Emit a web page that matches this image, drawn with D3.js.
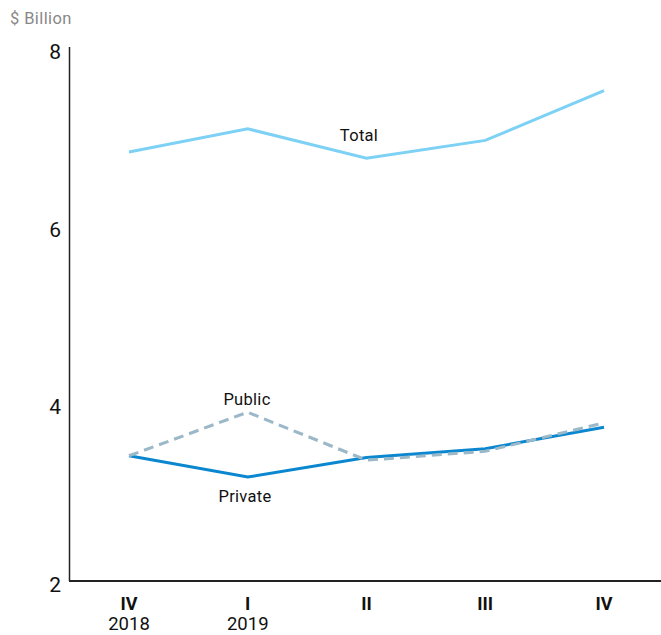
<!DOCTYPE html>
<html>
<head>
<meta charset="utf-8">
<script src="https://cdn.jsdelivr.net/npm/d3@7"></script>
<style>
  body { margin: 0; background: #fff; }
  svg { display: block; font-family: Roboto, "Noto Sans", sans-serif; }
</style>
</head>
<body>
<svg id="chart" width="661" height="635"></svg>
<script>
const quarters = ["IV", "I", "II", "III", "IV "];
const years = ["2018", "2019", "", "", ""];
const total = [6.83, 7.09, 6.76, 6.96, 7.52];
const publicS = [3.41, 3.90, 3.36, 3.46, 3.78];
const privateS = [3.41, 3.17, 3.39, 3.49, 3.73];
const yTicks = [2, 4, 6, 8];

const svg = d3.select("#chart");

const x = d3.scalePoint().domain(quarters).range([129, 604]);
const y = d3.scaleLinear().domain([2, 8]).range([581, 48]);

// axes lines
svg.append("line").attr("x1", 69.5).attr("x2", 69.5).attr("y1", y(8) - 1).attr("y2", y(2))
  .attr("stroke", "#222").attr("stroke-width", 1.5);
svg.append("line").attr("x1", 69).attr("x2", 661).attr("y1", y(2)).attr("y2", y(2))
  .attr("stroke", "#222").attr("stroke-width", 2);

// y tick labels
svg.selectAll(".ytick").data(yTicks).enter().append("text")
  .attr("x", 61).attr("y", d => y(d) + 11)
  .attr("text-anchor", "end").attr("font-size", 21).attr("fill", "#111")
  .text(d => d);

svg.append("text").attr("x", 10).attr("y", 24).attr("font-size", 16.5).attr("fill", "#888")
  .attr("letter-spacing", 0.4).text("$ Billion");

// x labels
svg.selectAll(".xq").data(quarters).enter().append("text")
  .attr("x", d => x(d)).attr("y", 610).attr("text-anchor", "middle")
  .attr("font-size", 18).attr("font-weight", "bold").attr("fill", "#111")
  .text(d => d.trim());
svg.selectAll(".xy").data(quarters).enter().append("text")
  .attr("x", d => x(d)).attr("y", 630).attr("text-anchor", "middle")
  .attr("font-size", 18.5).attr("fill", "#111")
  .text((d, i) => years[i]);

const line = d3.line().x((d, i) => x(quarters[i])).y(d => y(d));

svg.append("path").datum(total).attr("d", line).attr("fill", "none")
  .attr("stroke", "#7dd1f5").attr("stroke-width", 3);
svg.append("path").datum(privateS).attr("d", line).attr("fill", "none")
  .attr("stroke", "#0a87cf").attr("stroke-width", 3);
svg.append("path").datum(publicS).attr("d", line).attr("fill", "none")
  .attr("stroke", "#9bb8c9").attr("stroke-width", 3).attr("stroke-dasharray", "10,6");

// series labels
const lab = (tx, lx, ly) => svg.append("text").attr("x", lx).attr("y", ly)
  .attr("text-anchor", "middle").attr("font-size", 16.5).attr("letter-spacing", 0.3)
  .attr("fill", "#111").text(tx);
lab("Total", 359, 141);
lab("Public", 247, 405);
lab("Private", 245, 502);
</script>
</body>
</html>
